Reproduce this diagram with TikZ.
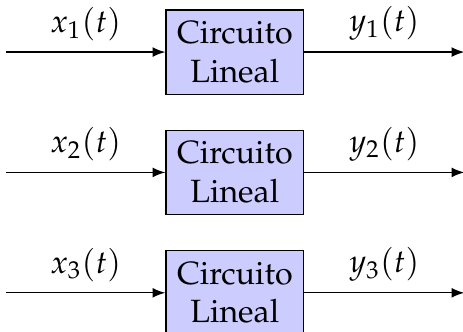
\documentclass[tikz,border=0pt]{standalone}
\usepackage{amsmath}
\usepackage[T1]{fontenc}
\usepackage{mathpazo}
\usepackage{tikz}
\usetikzlibrary{arrows,positioning}

\begin{document}
\begin{tikzpicture}
    \colorlet{boxblue}{blue!20}
    \tikzset{circuito/.style={draw, fill=boxblue, align=center,
                 minimum width=1.5cm, minimum height=0.92cm, inner sep=0pt}}

    \useasboundingbox (0,0) rectangle (5.054,-3.613);

    % The three circuits
    % (second and third stacked under the first)
    \node[circuito] (circ1) at (2.563,-0.568) {Circuito\\Lineal};
    \node[circuito, below=0.38cm of circ1] (circ2) {Circuito\\Lineal};
    \node[circuito, below=0.38cm of circ2] (circ3) {Circuito\\Lineal};

    % free ends of the signals
    \coordinate[left=1.74cm of circ1.west] (in1);
    \coordinate[left=1.74cm of circ2.west] (in2);
    \coordinate[left=1.74cm of circ3.west] (in3);
    \coordinate[right=1.75cm of circ1.east] (out1);
    \coordinate[right=1.75cm of circ2.east] (out2);
    \coordinate[right=1.75cm of circ3.east] (out3);

    % inputs
    \draw[-latex] (in1) -- (circ1) node[midway, above] {$x_1(t)$};
    \draw[-latex] (in2) -- (circ2) node[midway, above] {$x_2(t)$};
    \draw[-latex] (in3) -- (circ3) node[midway, above] {$x_3(t)$};

    % outputs
    \draw[-latex] (circ1) -- (out1) node[midway, above] {$y_1(t)$};
    \draw[-latex] (circ2) -- (out2) node[midway, above] {$y_2(t)$};
    \draw[-latex] (circ3) -- (out3) node[midway, above] {$y_3(t)$};
\end{tikzpicture}
\end{document}
